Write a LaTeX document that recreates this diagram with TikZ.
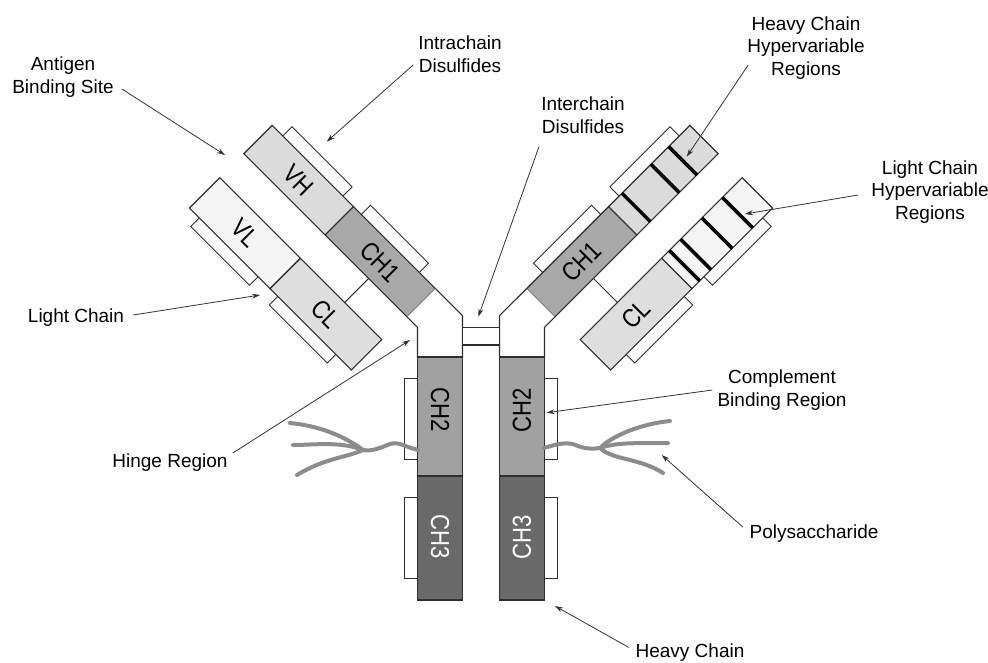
\documentclass[tikz,border=0pt]{standalone}
\usepackage{graphicx}
\usepackage{fontspec}
\setmainfont{Liberation Sans}
\usetikzlibrary{arrows.meta,calc}

\definecolor{vhgray}{gray}{0.86}
\definecolor{vlgray}{gray}{0.96}
\definecolor{clgray}{gray}{0.87}
\definecolor{chonegray}{gray}{0.66}
\definecolor{chtwogray}{gray}{0.63}
\definecolor{chthreegray}{gray}{0.41}
\definecolor{outline}{gray}{0.18}
\definecolor{sugar}{gray}{0.55}

\tikzset{
  dom/.style={draw=outline, line width=1.1pt, line join=miter},
  ssbox/.style={draw=outline, fill=white, line width=0.9pt},
  pointer/.style={draw=black!80, line width=0.8pt, -{Stealth[length=8pt,width=5pt]}},
  lbl/.style={font=\fontsize{19}{22.5}\selectfont, align=center, inner sep=0pt},
  domlbl/.style={font=\fontsize{26}{26}\selectfont, inner sep=0pt},
  band/.style={draw=black, line width=3.5pt},
  glycan/.style={draw=sugar, line width=4pt, line cap=round, line join=round},
}

% domain names are set slightly condensed
\newcommand\domtext[1]{\scalebox{0.85}[1]{#1}}

% One half of the molecule: heavy-chain arm, light chain, hinge and Fc stem.
% #1 = name prefix, #2 = extra drawing in the heavy arm frame,
% #3 = extra drawing in the light chain frame
\newcommand\halfmolecule[3]{%
  \begin{scope}[shift={(258,139.5)}, rotate=-45]
    % intrachain disulfide boxes
    \draw[ssbox] (15,-33) rectangle (100,-19);
    \draw[ssbox] (126,-33) rectangle (208,-19);
    \draw[ssbox] (14,96) rectangle (97,109);
    \draw[ssbox] (125,96) rectangle (207,109);
    % heavy chain arm
    \draw[dom, fill=vhgray] (0,-20) rectangle (115,20);
    \draw[dom, fill=chonegray] (115,-20) rectangle (231,20);
    #2
    % light chain
    \draw[dom, fill=vlgray] (0,54) rectangle (114,97);
    \draw[dom, fill=clgray] (114,54) rectangle (229,97);
    \begin{scope}[yshift=-75.5pt]
      #3
    \end{scope}
    % light-heavy interchain link
    \draw[dom, line width=0.9pt] (176.5,20) -- (176.5,54);
    \coordinate (#1hl) at (231,20);
    \coordinate (#1hr) at (231,-20);
    \coordinate (#1vh) at (57.5,0);
    \coordinate (#1chone) at (173,0);
    \coordinate (#1vl) at (57,75.5);
    \coordinate (#1cl) at (171.5,75.5);
  \end{scope}
  % hinge
  \draw[dom, fill=white] (#1hl) -- (417.5,327.3) -- (417.5,357)
    -- (462.5,357) -- (462.5,315.7) -- (#1hr);
  % Fc stem with its disulfide boxes
  \draw[ssbox] (404.5,378) rectangle (418,459);
  \draw[ssbox] (404.5,497) rectangle (418,578);
  \draw[dom, fill=chtwogray] (417.5,357) rectangle (462.5,476);
  \draw[dom, fill=chthreegray] (417.5,476) rectangle (462.5,600);
  \coordinate (#1chtwo) at (440,410);
  \coordinate (#1chthree) at (440,537);
}

\begin{document}
\begin{tikzpicture}[x=1pt, y=-1pt]
  \useasboundingbox (0,0) rectangle (988,662);
  \fill[white] (0,0) rectangle (988,662);

  % left half
  \halfmolecule{L}{}{}
  % right half, mirrored, with hypervariable bands
  \begin{scope}[xshift=962pt, xscale=-1]
    \halfmolecule{R}{%
      \draw[band] (30,-20) -- (30,20);
      \draw[band] (55,-20) -- (55,20);
      \draw[band] (96,-20) -- (96,20);
    }{%
      \draw[band] (28,-21.5) -- (28,21.5);
      \draw[band] (57,-21.5) -- (57,21.5);
      \draw[band] (87,-21.5) -- (87,21.5);
      \draw[band] (103,-21.5) -- (103,21.5);
    }
  \end{scope}

  % interchain disulfides between the heavy chains
  \draw[dom, fill=white] (462.5,327.7) rectangle (499.5,345);

  % polysaccharide chains
  \draw[glycan] (418,450) .. controls (405,447) and (398,441) .. (390,444)
    .. controls (382,447) and (372,452) .. (363,450);
  \draw[glycan] (363,450) .. controls (347,438) and (322,426) .. (290,423);
  \draw[glycan] (363,450) .. controls (340,441) and (315,445) .. (293,445);
  \draw[glycan] (363,450) .. controls (345,458) and (325,458) .. (297,475);
  \draw[glycan] (544,448) .. controls (557,444) and (568,441) .. (578,446)
    .. controls (586,449) and (594,449) .. (600,448);
  \draw[glycan] (600,448) .. controls (612,436) and (640,424) .. (670,421);
  \draw[glycan] (600,448) .. controls (620,441) and (645,444) .. (668,443);
  \draw[glycan] (600,448) .. controls (612,460) and (640,458) .. (663,473);

  % domain labels
  \node[domlbl, rotate=-45] (tvhL) at (Lvh) {\domtext{VH}};
  \node[domlbl, rotate=-45] (tchoneL) at (Lchone) {\domtext{CH1}};
  \node[domlbl, rotate=-45] (tvlL) at (Lvl) {\domtext{VL}};
  \node[domlbl, rotate=-45] (tclL) at (Lcl) {\domtext{CL}};
  \node[domlbl, rotate=45] (tchoneR) at (Rchone) {\domtext{CH1}};
  \node[domlbl, rotate=45] (tclR) at (Rcl) {\domtext{CL}};
  \node[domlbl, rotate=-90] (tchtwoL) at (Lchtwo) {\domtext{CH2}};
  \node[domlbl, rotate=-90, text=white] (tchthreeL) at (Lchthree) {\domtext{CH3}};
  \node[domlbl, rotate=90] (tchtwoR) at (Rchtwo) {\domtext{CH2}};
  \node[domlbl, rotate=90, text=white] (tchthreeR) at (Rchthree) {\domtext{CH3}};

  % callout labels
  \node[lbl] (antigen) at (63,77) {Antigen\\Binding Site};
  \node[lbl] (intra) at (460,54) {Intrachain\\Disulfides};
  \node[lbl] (inter) at (583,115) {Interchain\\Disulfides};
  \node[lbl] (hchv) at (806,48) {Heavy Chain\\Hypervariable\\Regions};
  \node[lbl] (lchv) at (930,192) {Light Chain\\Hypervariable\\Regions};
  \node[lbl] (light) at (76,318) {Light Chain};
  \node[lbl] (hinge) at (170,463) {Hinge Region};
  \node[lbl] (compl) at (782,390) {Complement\\Binding Region};
  \node[lbl] (poly) at (814,534) {Polysaccharide};
  \node[lbl] (heavy) at (690,653) {Heavy Chain};

  % pointer targets
  \coordinate (pAntigen) at (225,155);
  \coordinate (pIntra) at (326.7,141.7);
  \coordinate (pInter) at (478.3,316.7);
  \coordinate (pHchv) at (686.7,156.7);
  \coordinate (pLchv) at (745,214);
  \coordinate (pLight) at (260,295);
  \coordinate (pHinge) at (410,340);
  \coordinate (pCompl) at (546.7,412.7);
  \coordinate (pPoly) at (661.7,455);
  \coordinate (pHeavy) at (555,606);

  % pointers
  \draw[pointer] ($(antigen.east)+(8,12)$) -- (pAntigen);
  \draw[pointer] ($(intra.west)+(-5,11)$) -- (pIntra);
  \draw[pointer] ($(inter.south west)+(-2,13)$) -- (pInter);
  \draw[pointer] ($(hchv.west)+(1,17)$) -- (pHchv);
  \draw[pointer] ($(lchv.west)+(-13,3)$) -- (pLchv);
  \draw[pointer] ($(light.east)+(9,-3)$) -- (pLight);
  \draw[pointer] ($(hinge.east)+(5,-10)$) -- (pHinge);
  \draw[pointer] ($(compl.west)+(-5,0)$) -- (pCompl);
  \draw[pointer] ($(poly.west)+(-6.6,-7)$) -- (pPoly);
  \draw[pointer] ($(heavy.west)+(-6.7,-5.6)$) -- (pHeavy);
\end{tikzpicture}
\end{document}
